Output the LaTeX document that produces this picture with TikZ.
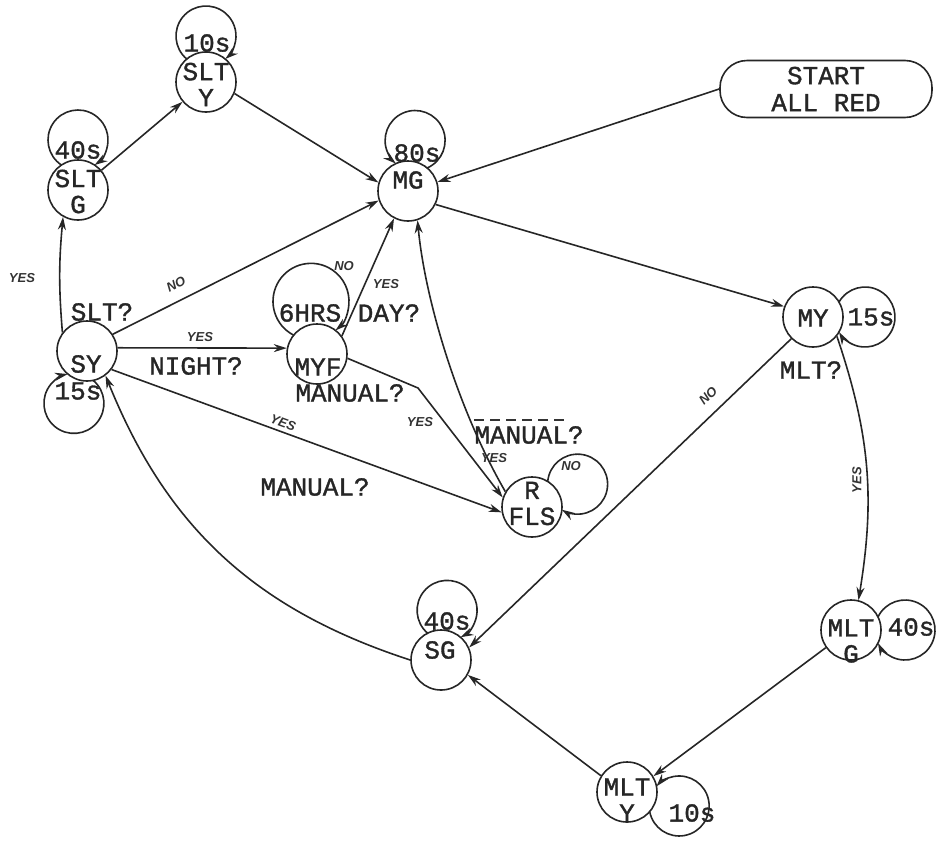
\documentclass[tikz,border=0pt]{standalone}
\usepackage{fontspec}
\setmainfont{Liberation Mono}[BoldFont={Liberation Mono}, BoldFeatures={FakeBold=1.3}]
\newfontfamily\handfont{Liberation Sans}
\usetikzlibrary{arrows.meta,calc}
\newcommand\sloop[5]{%
  \pgfmathsetmacro\lpb{acos((#3*#3+#4*#4-900)/(2*#3*#4))}%
  \ifnum#5=1
    \pgfmathsetmacro\lps{#2+180+\lpb}\pgfmathsetmacro\lpe{#2+540-\lpb}%
  \else
    \pgfmathsetmacro\lps{#2+540-\lpb}\pgfmathsetmacro\lpe{#2+180+\lpb}%
  \fi
  \draw[arr] ($(#1.center)+(#2:#3)+(\lps:#4)$) arc[start angle=\lps, end angle=\lpe, radius=#4];
}
\begin{document}
\begin{tikzpicture}[x=1pt,y=1pt,
  ln/.style={line width=1.6pt, draw=black!85},
  st/.style={circle, ln, minimum size=60pt, inner sep=0pt},
  tx/.style={font=\fontsize{26}{26}\selectfont\bfseries, inner sep=0pt, align=center, text=black!85},
  hand/.style={font=\handfont\itshape\bfseries\fontsize{13}{13}\selectfont, inner sep=0pt, text=black!80},
  arr/.style={ln, -{Stealth[length=13pt,width=8pt,fill=black!55]}},
]
\useasboundingbox (0,0) rectangle (939,-841);

% states
\node[st] (SLTY) at (206,-82) {};
\node[st] (SLTG) at (78,-190) {};
\node[st] (MG) at (408,-191) {};
\node[st] (SY) at (87,-351) {};
\node[st] (MYF) at (317,-354) {};
\node[st] (RFLS) at (532,-507) {};
\node[st] (MY) at (813,-317) {};
\node[st] (MLTG) at (851,-630) {};
\node[st] (SG) at (441,-660) {};
\node[st] (MLTY) at (627,-792) {};
\node[ln, tx, rounded corners=27pt, minimum width=212pt, minimum height=57pt,
      font=\fontsize{26}{27}\selectfont\bfseries] (START) at (826,-89) {START\\ALL RED};

% state texts
\node[tx] (SLTYt) at (206,-84.5) {SLT\\Y};
\node[tx] (SLTGt) at (78,-191.5) {SLT\\G};
\node[tx] (MGt) at (408,-180) {MG};
\node[tx] (SYt) at (86,-364) {SY};
\node[tx] (MYFt) at (318,-367) {MYF};
\node[tx] (RFLSt) at (532,-503.5) {R\\FLS};
\node[tx] (MYt) at (813,-318) {MY};
\node[tx] (MLTGt) at (851,-641) {MLT\\G};
\node[tx] (SGt) at (440,-650) {SG};
\node[tx] (MLTYt) at (627,-800) {MLT\\Y};

% self loops
\sloop{SLTY}{90}{46}{30}{-1}
\sloop{SLTG}{90}{50}{30}{-1}
\sloop{MG}{82}{51}{30}{1}
\sloop{SY}{256}{54}{30}{-1}
\sloop{MYF}{96.5}{53}{38}{-1}
\sloop{RFLS}{26.6}{51}{30}{-1}
\sloop{MY}{0}{52}{30}{-1}
\sloop{MLTG}{0}{54}{30}{-1}
\sloop{MLTY}{-15}{54}{30}{1}
\sloop{SG}{83}{50}{30}{-1}

% loop labels
\node[tx] (l10a) at (207,-43) {10s};
\node[tx] (l40a) at (78,-150) {40s};
\node[tx] (l80) at (417,-153) {80s};
\node[tx] (l15a) at (78,-391) {15s};
\node[tx] (l6h) at (310,-313) {6HRS};
\node[tx] (l15b) at (871,-317) {15s};
\node[tx] (l40b) at (911,-627) {40s};
\node[tx] (l40c) at (447,-621) {40s};
\node[tx] (l10b) at (692,-813) {10s};

% transitions
\draw[arr] (SLTG) -- (SLTY);
\draw[arr] (SLTY.-22) -- (MG.164);
\draw[arr] (START.west) -- (MG.17);
\draw[arr] (SY.33) -- (MG.198);
\draw[arr] (SY.143) to[bend left=5] (SLTG.241);
\draw[arr] (SY.6) -- (MYF.169);
\draw[arr] (MYF.36) -- (MG.243);
\coordinate (kink) at (418,-388);
\draw[arr] (MYF.-8) -- (kink) -- (RFLS.162);
\draw[arr] (RFLS.150) .. controls (458,-410) and (425,-300) .. (MG.288);
\draw[arr] (SY.-37) -- (RFLS.190);
\draw[arr] (MG.-26) -- (MY.160);
\draw[arr] (MY.-135) -- (SG.24);
\draw[arr] (MY.-39) to[bend left=14] (MLTG.76);
\draw[arr] (MLTG.-145) -- (MLTY.31);
\draw[arr] (MLTY.148) -- (SG.-29);
\draw[arr] (SG.180) to[bend left=25] (SY.-53);

% conditions
\node[tx] (qSLT) at (102,-312) {SLT?};
\node[tx] (qNIGHT) at (196,-366) {NIGHT?};
\node[tx] (qDAY) at (389,-313) {DAY?};
\node[tx] (qMANa) at (350,-393) {MANUAL?};
\node[tx] (qMANb) at (315,-487) {MANUAL?};
\node[tx] (qMANc) at (529,-435) {MANUAL?};
\draw[line width=1.2pt, draw=black!80, dash pattern=on 10pt off 6pt]
  ($(qMANc.north west)+(0,6)$) -- ($(qMANc.north east)+(-15.6,6)$);
\node[tx] (qMLT) at (811,-370) {MLT?};

% hand labels
\node[hand] (h1) at (22,-278) {YES};
\node[hand, rotate=27] (h2) at (176,-284) {NO};
\node[hand] (h3) at (200,-337) {YES};
\node[hand] (h4) at (386,-284) {YES};
\node[hand] (h5) at (344,-266) {NO};
\node[hand] (h6) at (420,-422) {YES};
\node[hand] (h7) at (494,-458) {YES};
\node[hand] (h8) at (571,-466) {NO};
\node[hand, rotate=-20] (h9) at (283,-423) {YES};
\node[hand, rotate=44] (h10) at (708,-396) {NO};
\node[hand, rotate=90] (h11) at (857,-480) {YES};
\end{tikzpicture}
\end{document}
